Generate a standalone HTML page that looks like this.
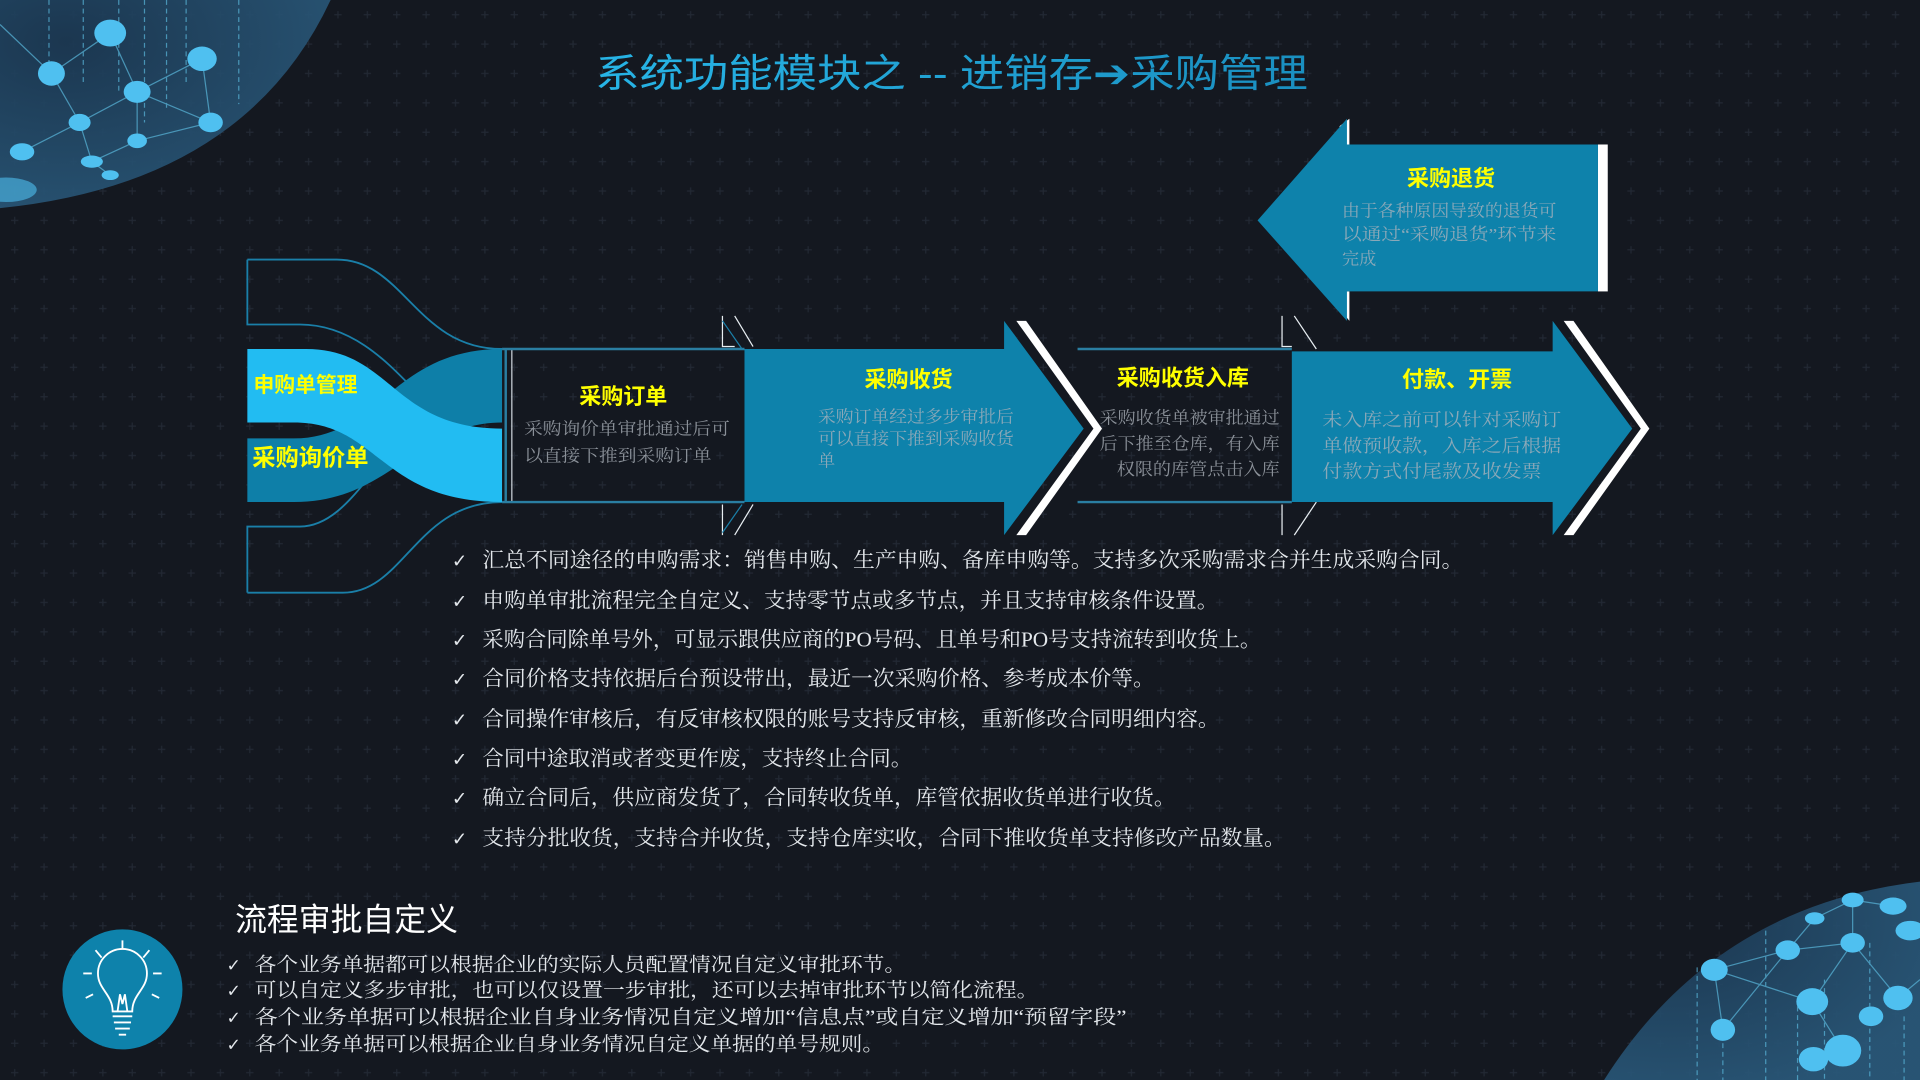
<!DOCTYPE html>
<html><head><meta charset="utf-8">
<style>
html,body{margin:0;padding:0;background:#141820;}
svg{display:block}
.s{font-family:"Liberation Serif","Noto Serif CJK SC",serif;}
.h{font-family:"Liberation Sans","Noto Sans CJK SC",sans-serif;}
.c{font-family:"DejaVu Sans",sans-serif;}
</style></head><body>
<svg width="1920" height="1080" viewBox="0 0 1568 882" xmlns="http://www.w3.org/2000/svg">
<defs>
<pattern id="grid" width="24" height="24" patternUnits="userSpaceOnUse">
<path d="M12 9v6M9 12h6" stroke="#222833" stroke-width="1"/>
</pattern>
<radialGradient id="g1" cx="0.2" cy="0.2" r="0.9">
<stop offset="0" stop-color="#1c3a55"/><stop offset="1" stop-color="#2a5a7c"/>
</radialGradient>
<linearGradient id="tg" x1="0" x2="1"><stop offset="0" stop-color="#27b4e6"/><stop offset="1" stop-color="#1a8fc0"/></linearGradient>
</defs>
<rect width="1568" height="882" fill="#141820"/>
<rect width="1568" height="882" fill="url(#grid)"/>

<!-- top-left globe -->
<path d="M0 0 H270 Q200 150 0 170 Z" fill="url(#g1)" opacity="0.9"/>
<g stroke="#5ab8dc" stroke-width="1" opacity="0.7" fill="none">
<path d="M42 60 L90 27 M42 60 L65 100 L112 75 L90 27 M112 75 L165 48 L172 100 L112 75 M65 100 L18 124 M65 100 L75 132 L90 143 M112 75 L112 115 L75 132 M172 100 L112 115 M0 20 L42 60"/>
<path d="M40 0v60 M68 0v70 M97 0v75 M152 0v70 M195 0v85 M118 0v100 M136 0v90" stroke-dasharray="4 3"/>
</g>
<g fill="#4fc0f0">
<ellipse cx="90" cy="27" rx="13" ry="11"/><ellipse cx="165" cy="48" rx="12" ry="10"/>
<ellipse cx="42" cy="60" rx="11" ry="10"/><ellipse cx="112" cy="75" rx="11" ry="9"/>
<ellipse cx="65" cy="100" rx="9" ry="7"/><ellipse cx="172" cy="100" rx="10" ry="8"/>
<ellipse cx="18" cy="124" rx="10" ry="7"/><ellipse cx="112" cy="115" rx="8" ry="6"/>
<ellipse cx="75" cy="132" rx="9" ry="5"/><ellipse cx="90" cy="143" rx="7" ry="4"/>
<ellipse cx="5" cy="155" rx="25" ry="10" opacity="0.6"/>
</g>

<!-- bottom-right globe -->
<path d="M1310 882 Q1400 740 1568 720 V882 Z" fill="url(#g1)" opacity="0.9"/>
<g stroke="#5ab8dc" stroke-width="1" opacity="0.7" fill="none">
<path d="M1400 792 L1460 776 L1482 750 L1513 735 L1546 740 M1400 792 L1407 841 L1460 776 M1400 792 L1480 818 L1513 770 L1513 735 M1480 818 L1505 858 M1513 770 L1550 815 L1568 800 M1460 776 L1513 770"/>
<path d="M1386 790v92 M1407 845v37 M1442 760v122 M1490 800v82 M1527 770v112 M1555 830v52 M1468 815v67" stroke-dasharray="4 3"/>
</g>
<g fill="#4fc0f0">
<ellipse cx="1400" cy="792" rx="11" ry="9"/><ellipse cx="1407" cy="841" rx="10" ry="9"/>
<ellipse cx="1460" cy="776" rx="10" ry="8"/><ellipse cx="1480" cy="818" rx="13" ry="11"/>
<ellipse cx="1482" cy="750" rx="8" ry="5"/><ellipse cx="1513" cy="770" rx="10" ry="8"/>
<ellipse cx="1513" cy="735" rx="9" ry="6"/><ellipse cx="1546" cy="740" rx="11" ry="7"/>
<ellipse cx="1505" cy="858" rx="15" ry="13"/><ellipse cx="1550" cy="815" rx="12" ry="10"/>
<ellipse cx="1481" cy="865" rx="12" ry="10"/><ellipse cx="1528" cy="830" rx="10" ry="8"/>
<ellipse cx="1560" cy="760" rx="12" ry="8"/>
</g>

<!-- title -->
<text x="486" y="71" class="h" font-size="32" fill="url(#tg)" textLength="582" lengthAdjust="spacingAndGlyphs">系统功能模块之 -- 进销存➔采购管理</text>

<!-- left outlines -->
<g fill="none" stroke="#1a7fa8" stroke-width="1.5">
<path d="M202 212 H275 C330 212 340 285 410 285"/>
<path d="M202 212 V265 H245 C290 265 320 300 340 320"/>
<path d="M202 484 V430 H245 C275 430 295 395 310 380"/>
<path d="M202 484 H280 C330 484 340 410 410 410"/>
</g>
<!-- bands -->
<path d="M202 358 H240 C310 358 320 285 410 285 V345 C340 345 320 410 240 410 H202 Z" fill="#0e7fa8"/>
<path d="M202 285 H250 C320 285 320 350 410 350 V410 C310 410 310 345 240 345 H202 Z" fill="#22bcf2"/>
<text x="207" y="320" class="h" font-size="17" font-weight="bold" fill="#ffff00">申购单管理</text>
<text x="206" y="380" class="h" font-size="19" font-weight="bold" fill="#ffff00">采购询价单</text>

<!-- 采购订单 box -->
<line x1="413" y1="285" x2="413" y2="410" stroke="#2a7ea2" stroke-width="2"/>
<line x1="418" y1="285" x2="418" y2="410" stroke="#cfd6dc" stroke-width="1"/>
<path d="M410 285 H608 M410 410 H608" stroke="#2a7ea2" stroke-width="2"/>
<g fill="none" stroke="#e8eef2" stroke-width="1">
<path d="M590 258 V283 H600 M600 258 L615 283 M590 412 V437 M600 437 L615 412"/>
</g>
<g fill="none" stroke="#1a7fa8" stroke-width="1"><path d="M590 262 L606 285 M590 435 L606 412"/></g>
<text x="509" y="330" text-anchor="middle" class="h" font-size="18" font-weight="bold" fill="#ffff00">采购订单</text>
<text x="428" y="355" class="s" font-size="14" fill="#8a9098" textLength="168" lengthAdjust="spacingAndGlyphs">采购询价单审批通过后可</text>
<text x="428" y="377" class="s" font-size="14" fill="#8a9098" textLength="153" lengthAdjust="spacingAndGlyphs">以直接下推到采购订单</text>

<!-- 采购收货 arrow -->
<path d="M830 262 L893 350 L830 437 L838 437 L900 350 L838 262 Z" fill="#ffffff"/>
<path d="M608 285 H820 V262 L885 350 L820 437 V410 H608 Z" fill="#0e82ab"/>
<text x="742" y="316" text-anchor="middle" class="h" font-size="18" font-weight="bold" fill="#ffff00">采购收货</text>
<text x="668" y="345" class="s" font-size="14" fill="#8aa8b8" textLength="160" lengthAdjust="spacingAndGlyphs">采购订单经过多步审批后</text>
<text x="668" y="363" class="s" font-size="14" fill="#8aa8b8" textLength="160" lengthAdjust="spacingAndGlyphs">可以直接下推到采购收货</text>
<text x="668" y="381" class="s" font-size="14" fill="#8aa8b8">单</text>

<!-- 采购收货入库 -->
<path d="M880 285 H1055 M880 410 H1055" stroke="#2a7ea2" stroke-width="2"/>
<g fill="none" stroke="#e8eef2" stroke-width="1">
<path d="M1047 258 V283 H1055 M1057 258 L1075 285 M1047 412 V437 M1057 437 L1075 410"/>
</g>
<text x="966" y="315" text-anchor="middle" class="h" font-size="18" font-weight="bold" fill="#ffff00">采购收货入库</text>
<text x="898" y="346" class="s" font-size="14" fill="#8a9098" textLength="147" lengthAdjust="spacingAndGlyphs">采购收货单被审批通过</text>
<text x="898" y="367" class="s" font-size="14" fill="#8a9098" textLength="147" lengthAdjust="spacingAndGlyphs">后下推至仓库，有入库</text>
<text x="1045" y="388" text-anchor="end" class="s" font-size="14" fill="#8a9098" textLength="133" lengthAdjust="spacingAndGlyphs">权限的库管点击入库</text>

<!-- 付款、开票 arrow -->
<path d="M1277 262 L1340 350 L1277 437 L1285 437 L1347 350 L1285 262 Z" fill="#ffffff"/>
<path d="M1055 287 H1268 V262 L1333 350 L1268 437 V410 H1055 Z" fill="#0e82ab"/>
<text x="1190" y="316" text-anchor="middle" class="h" font-size="18" font-weight="bold" fill="#ffff00">付款、开票</text>
<text x="1080" y="348" class="s" font-size="15" fill="#8aa8b8" textLength="195" lengthAdjust="spacingAndGlyphs">未入库之前可以针对采购订</text>
<text x="1080" y="369" class="s" font-size="15" fill="#8aa8b8" textLength="195" lengthAdjust="spacingAndGlyphs">单做预收款，入库之后根据</text>
<text x="1080" y="390" class="s" font-size="15" fill="#8aa8b8" textLength="179" lengthAdjust="spacingAndGlyphs">付款方式付尾款及收发票</text>

<!-- 采购退货 left arrow -->
<path d="M1094 103 L1102 97 V118 H1095 Z M1094 238 H1102 V262 L1094 252 Z" fill="#ffffff"/>
<rect x="1305" y="118" width="8" height="120" fill="#ffffff"/>
<path d="M1305 118 H1100 V97 L1027 180 L1100 262 V238 H1305 Z" fill="#0e82ab"/>
<text x="1185" y="152" text-anchor="middle" class="h" font-size="18" font-weight="bold" fill="#ffff00">采购退货</text>
<text x="1096" y="177" class="s" font-size="14" fill="#8aa8b8" textLength="175" lengthAdjust="spacingAndGlyphs">由于各种原因导致的退货可</text>
<text x="1096" y="196" class="s" font-size="14" fill="#8aa8b8" textLength="175" lengthAdjust="spacingAndGlyphs">以通过“采购退货”环节来</text>
<text x="1096" y="216" class="s" font-size="14" fill="#8aa8b8">完成</text>

<!-- list -->
<g class="c" font-size="15" fill="#e4e8ec">
<text x="369" y="463">✓</text><text x="369" y="496">✓</text><text x="369" y="528">✓</text><text x="369" y="560">✓</text>
<text x="369" y="593">✓</text><text x="369" y="625">✓</text><text x="369" y="657">✓</text><text x="369" y="690">✓</text>
<text x="185" y="793" font-size="14">✓</text><text x="185" y="814" font-size="14">✓</text><text x="185" y="836" font-size="14">✓</text><text x="185" y="858" font-size="14">✓</text>
</g>
<g class="s" font-size="17" fill="#e4e8ec" lengthAdjust="spacingAndGlyphs">
<text x="394" y="463" textLength="801" lengthAdjust="spacingAndGlyphs">汇总不同途径的申购需求：销售申购、生产申购、备库申购等。支持多次采购需求合并生成采购合同。</text>
<text x="394" y="496" textLength="601" lengthAdjust="spacingAndGlyphs">申购单审批流程完全自定义、支持零节点或多节点，并且支持审核条件设置。</text>
<text x="394" y="528" textLength="636" lengthAdjust="spacingAndGlyphs">采购合同除单号外，可显示跟供应商的PO号码、且单号和PO号支持流转到收货上。</text>
<text x="394" y="560" textLength="549" lengthAdjust="spacingAndGlyphs">合同价格支持依据后台预设带出，最近一次采购价格、参考成本价等。</text>
<text x="394" y="593" textLength="602" lengthAdjust="spacingAndGlyphs">合同操作审核后，有反审核权限的账号支持反审核，重新修改合同明细内容。</text>
<text x="394" y="625" textLength="351" lengthAdjust="spacingAndGlyphs">合同中途取消或者变更作废，支持终止合同。</text>
<text x="394" y="657" textLength="566" lengthAdjust="spacingAndGlyphs">确立合同后，供应商发货了，合同转收货单，库管依据收货单进行收货。</text>
<text x="394" y="690" textLength="656" lengthAdjust="spacingAndGlyphs">支持分批收货，支持合并收货，支持仓库实收，合同下推收货单支持修改产品数量。</text>
</g>

<!-- bottom section -->
<text x="192" y="760" class="h" font-size="26" fill="#ffffff">流程审批自定义</text>
<ellipse cx="100" cy="808" rx="49" ry="49" fill="#0e82ab"/>
<g stroke="#ffffff" stroke-width="1.5" fill="none">
<path d="M92 826 C92 812 80 808 80 795 A20 20 0 1 1 120 795 C120 808 108 812 108 826 Z"/>
<path d="M92 830 H108 M93 835 H107 M94 840 H106 M97 845 H103 M96 826 L98 812 L100 820 L102 812 L104 826"/>
<path d="M100 768 V775 M78 776 L83 782 M122 776 L117 782 M68 795 H75 M125 795 H132 M70 815 L76 812 M130 815 L124 812"/>
</g>
<g class="s" font-size="16" fill="#e4e8ec">
<text x="208" y="793" textLength="532" lengthAdjust="spacingAndGlyphs">各个业务单据都可以根据企业的实际人员配置情况自定义审批环节。</text>
<text x="208" y="814" textLength="640" lengthAdjust="spacingAndGlyphs">可以自定义多步审批，也可以仅设置一步审批，还可以去掉审批环节以简化流程。</text>
<text x="208" y="836" textLength="712" lengthAdjust="spacingAndGlyphs">各个业务单据可以根据企业自身业务情况自定义增加“信息点”或自定义增加“预留字段”</text>
<text x="208" y="858" textLength="514" lengthAdjust="spacingAndGlyphs">各个业务单据可以根据企业自身业务情况自定义单据的单号规则。</text>
</g>
</svg>
</body></html>
